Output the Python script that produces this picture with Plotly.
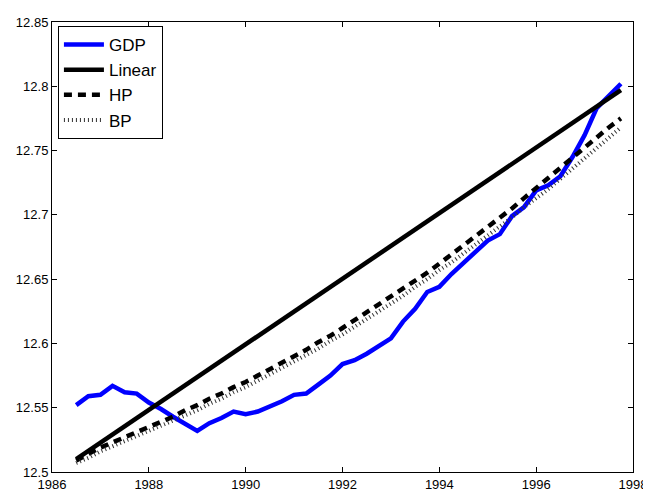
import plotly.graph_objects as go

# Quarterly time axis 1986.5 .. 1997.75
quarters = [1986.5 + 0.25 * i for i in range(46)]

gdp = [12.552, 12.559, 12.560, 12.567, 12.562, 12.561, 12.554, 12.549, 12.543, 12.537,
       12.532, 12.538, 12.542, 12.547, 12.545, 12.547, 12.551, 12.555, 12.560, 12.561,
       12.568, 12.575, 12.584, 12.587, 12.592, 12.598, 12.604, 12.617, 12.627, 12.640,
       12.644, 12.654, 12.663, 12.672, 12.680, 12.685, 12.699, 12.706, 12.719, 12.723,
       12.730, 12.745, 12.762, 12.783, 12.792, 12.802]

linear_x = [1986.5, 1997.75]
linear_y = [12.510, 12.797]

hp = [12.509, 12.514, 12.519, 12.523, 12.527, 12.531, 12.535, 12.539, 12.543, 12.548,
      12.552, 12.557, 12.561, 12.566, 12.570, 12.575, 12.580, 12.585, 12.590, 12.595,
      12.601, 12.606, 12.612, 12.618, 12.624, 12.630, 12.636, 12.642, 12.649, 12.655,
      12.662, 12.669, 12.676, 12.683, 12.690, 12.698, 12.705, 12.713, 12.721, 12.728,
      12.736, 12.744, 12.752, 12.760, 12.768, 12.775]

bp = [12.507, 12.511, 12.516, 12.520, 12.524, 12.528, 12.532, 12.536, 12.540, 12.544,
      12.548, 12.553, 12.557, 12.562, 12.566, 12.571, 12.576, 12.581, 12.586, 12.591,
      12.596, 12.602, 12.607, 12.613, 12.619, 12.625, 12.631, 12.637, 12.644, 12.650,
      12.657, 12.663, 12.670, 12.677, 12.684, 12.691, 12.698, 12.706, 12.713, 12.720,
      12.728, 12.736, 12.744, 12.752, 12.760, 12.768]

x_ticks = [1986, 1988, 1990, 1992, 1994, 1996, 1998]
x_tick_labels = ["1986", "1988", "1990", "1992", "1994", "1996", "1998"]
y_ticks = [12.5, 12.55, 12.6, 12.65, 12.7, 12.75, 12.8, 12.85]
y_tick_labels = ["12.5", "12.55", "12.6", "12.65", "12.7", "12.75", "12.8", "12.85"]

FONT = "Liberation Sans, Arial, Helvetica, sans-serif"

fig = go.Figure()
fig.add_trace(go.Scatter(x=quarters, y=gdp, mode="lines", name="GDP",
                         line=dict(color="#0000ff", width=4.5)))
fig.add_trace(go.Scatter(x=linear_x, y=linear_y, mode="lines", name="Linear",
                         line=dict(color="black", width=4.5)))
fig.add_trace(go.Scatter(x=quarters, y=hp, mode="lines", name="HP",
                         line=dict(color="black", width=4.5, dash="8px,6px")))
fig.add_trace(go.Scatter(x=quarters, y=bp, mode="lines", name="BP",
                         line=dict(color="#333333", width=4, dash="1px,3px")))

axis_common = dict(showline=True, linecolor="black", linewidth=1, mirror="ticks",
                   ticks="inside", ticklen=5, tickcolor="black", tickwidth=1,
                   showgrid=False, zeroline=False,
                   tickfont=dict(family=FONT, size=13, color="black"))

fig.update_xaxes(range=[1986, 1998], tickvals=x_ticks, ticktext=x_tick_labels,
                 automargin=True, **axis_common)
fig.update_yaxes(range=[12.5, 12.85], tickvals=y_ticks, ticktext=y_tick_labels,
                 automargin=False, **axis_common)

fig.update_layout(
    width=651, height=496,
    margin=dict(l=44, r=18, t=14, b=19),
    paper_bgcolor="white", plot_bgcolor="white",
    showlegend=True,
    legend=dict(x=0.0102, y=0.991, xanchor="left", yanchor="top",
                bgcolor="white", bordercolor="black", borderwidth=1,
                font=dict(family=FONT, size=17, color="black"),
                itemwidth=40, tracegroupgap=0),
    font=dict(family=FONT),
)

fig.write_html("out.html")
